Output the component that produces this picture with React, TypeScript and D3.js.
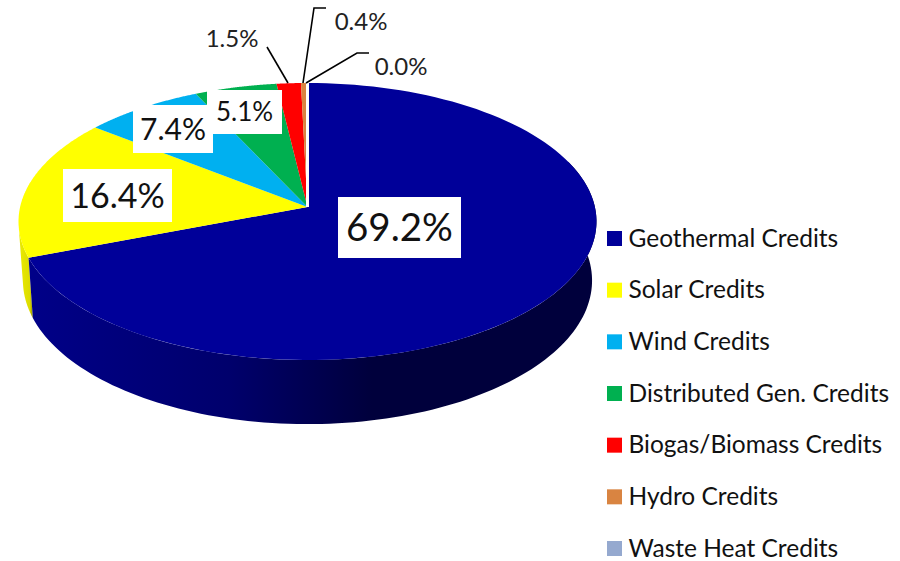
import React from "react";
import * as d3 from "d3";

const categories = ["Geothermal Credits", "Solar Credits", "Wind Credits", "Distributed Gen. Credits", "Biogas/Biomass Credits", "Hydro Credits", "Waste Heat Credits"];
const shares = [69.2, 16.4, 7.4, 5.1, 1.5, 0.4, 0.0];
const colors = ["#000099", "#FFFF00", "#00B0F0", "#00B050", "#FF0000", "#D98441", "#95A9CF"];
const labelTexts = ["69.2%", "16.4%", "7.4%", "5.1%", "1.5%", "0.4%", "0.0%"];

const FONT = "Lato, 'Open Sans', sans-serif";
const cx = 307.5, cy = 207, k = 0.1047;

// Perspective projection of a unit disc (angle clockwise from 12 o'clock)
const top = (a: number, r = 1): [number, number] => {
  const u = r * Math.sin(a), v = -r * Math.cos(a), d = 1 - k * v;
  return [cx + (287.4 * u) / d, cy + (137 * v) / d];
};
const bottom = (a: number): [number, number] => {
  const u = Math.sin(a), v = -Math.cos(a), d = 1 - k * v;
  return [cx + (283 * u) / d, cy + 58.5 + (142 * v) / d];
};
const line = d3.line();
const arcPts = (f: (a: number) => [number, number], a0: number, a1: number) =>
  d3.range(0, 121).map((i) => f(a0 + ((a1 - a0) * i) / 120));
const wall = (a0: number, a1: number) =>
  line([...arcPts((a) => top(a), a0, a1), ...arcPts(bottom, a1, a0)]) + "Z";

const arcs = d3.pie<number>().sort(null).startAngle(0).endAngle(2 * Math.PI)(shares);
const deg = Math.PI / 180;

const boxes = [
  { i: 0, x: 338, y: 197, w: 123, h: 61, fs: 38.5 },
  { i: 1, x: 63, y: 169, w: 109, h: 53, fs: 34 },
  { i: 2, x: 133, y: 105, w: 80, h: 48, fs: 30 },
  { i: 3, x: 207, y: 90, w: 75, h: 44, fs: 26 },
];
const outside = [
  { i: 4, x: 232, y: 47 },
  { i: 5, x: 361, y: 30 },
  { i: 6, x: 401, y: 75 },
];
const leaders = [
  [[267, 47], [288, 83]],
  [[326, 8], [314, 8], [303, 83]],
  [[369, 53], [357, 53], [306, 83]],
] as [number, number][][];

const legendY = d3.scalePoint<string>().domain(categories).range([238.5, 548.5]);

export default function App() {
  return (
    <svg width={900} height={561} style={{ position: "absolute", left: 0, top: 0, background: "#fff" }}>
      <defs>
        <linearGradient id="navyWall" gradientUnits="userSpaceOnUse" x1={30} x2={600} y1={0} y2={0}>
          <stop offset="0" stopColor="#000088" />
          <stop offset="0.35" stopColor="#00006c" />
          <stop offset="0.6" stopColor="#00003c" />
          <stop offset="1" stopColor="#00003c" />
        </linearGradient>
        <linearGradient id="yellowWall" gradientUnits="userSpaceOnUse" x1={18} x2={35} y1={0} y2={0}>
          <stop offset="0" stopColor="#ecec00" />
          <stop offset="0.7" stopColor="#dcdc00" />
          <stop offset="1" stopColor="#555500" />
        </linearGradient>
      </defs>
      <path d={wall(262 * deg, arcs[0].endAngle)} fill="url(#yellowWall)" />
      <path d={wall(70 * deg, arcs[0].endAngle)} fill="url(#navyWall)" />
      {arcs.map((d, i) => (
        <path
          key={i}
          d={line([top(0, 0), ...arcPts((a) => top(a), d.startAngle, d.endAngle)]) + "Z"}
          fill={colors[i]}
        />
      ))}
      <path d={line([top(0, 0), top(0)])!} stroke="#fff" strokeWidth={3} fill="none" />
      {leaders.map((p, i) => (
        <path key={i} d={line(p)!} stroke="#000" strokeWidth={1.6} fill="none" />
      ))}
      {boxes.map((b) => (
        <g key={b.i}>
          <rect x={b.x} y={b.y} width={b.w} height={b.h} fill="#fff" />
          <text
            x={b.x + b.w / 2}
            y={b.y + b.h / 2}
            dy="0.36em"
            textAnchor="middle"
            fontFamily={FONT}
            fontSize={b.fs}
            fill="#111"
          >
            {labelTexts[b.i]}
          </text>
        </g>
      ))}
      {outside.map((b) => (
        <text key={b.i} x={b.x} y={b.y} textAnchor="middle" fontFamily={FONT} fontSize={24} fill="#222">
          {labelTexts[b.i]}
        </text>
      ))}
      {categories.map((c, i) => (
        <g key={c}>
          <rect x={607} y={legendY(c)! - 7.5} width={15} height={15} fill={colors[i]} />
          <text x={628.5} y={legendY(c)! + 8} fontFamily={FONT} fontSize={24.5} fill="#111">
            {c}
          </text>
        </g>
      ))}
    </svg>
  );
}
